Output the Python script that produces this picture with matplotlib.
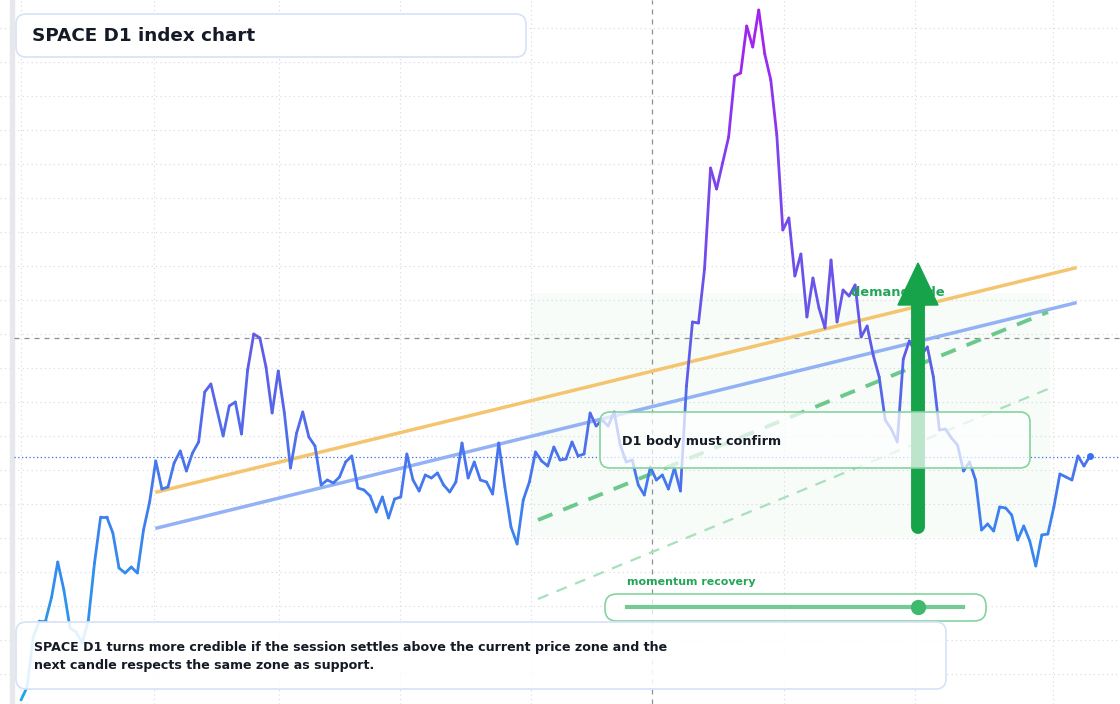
import numpy as np
import matplotlib
matplotlib.use("Agg")
import matplotlib.pyplot as plt
from matplotlib.collections import LineCollection
from matplotlib.colors import LinearSegmentedColormap
from matplotlib.patches import FancyBboxPatch, Rectangle

# price series (screen-height units, 704 = top)
screen_y_a = [700,687,637,621,621,597,562,590,628,632,643,620,563,517,517,533,568,573,567,573,530,502,461,489,487,463,451,471,453,442,392,384,410,436,406,402,434,370,334,338,367,413,371,413,468,433,412,437,446,485,480,483,477,462,456,488,490,496,512,497,518,499,497,454,480,491,475,478,473,485,492,482,443,478,462,480,482,494,443,487,527,544,500,482,452,461,466,447,460]
screen_y_b = [459,442,456,454,413,426,420,426,412,445,462,460,485,495,467,480,475,489,468,491,386,322,323,269,168,189,163,137,76,73,26,47,10,54,80,135,230,218,276,254,317,278,308,328,260,322,290,296,285,337,326,355,377,420,429,442,359,341,352,355,347,377,430,429,438,445,471,462,480,530,524,531,507,508,515,540,526,541,566,535,534,507,474,477,480,456,466,456]
price_a = [704 - v for v in screen_y_a]
price_b = [704 - v for v in screen_y_b]
title = "SPACE D1 index chart"
note = "SPACE D1 turns more credible if the session settles above the current price zone and the\nnext candle respects the same zone as support."
callout = "D1 body must confirm"

W, H = 1120, 704
fig = plt.figure(figsize=(11.2, 7.04), dpi=100)
ax = fig.add_axes([0, 0, 1, 1])
ax.set_xlim(0, W); ax.set_ylim(0, H); ax.axis("off")
Y = lambda y: H - y

for gx in [21, 154, 279, 400, 531, 784, 915, 1053]:
    ax.axvline(gx, color="#d5d9e0", lw=0.8, ls=(0, (1, 3)), zorder=0)
for gy in range(28, 704, 34):
    ax.axhline(Y(gy), color="#d5d9e0", lw=0.8, ls=(0, (1, 3)), zorder=0)
ax.add_patch(Rectangle((10, 0), 4, H, color="#e6e8ec", zorder=1))

ax.add_patch(Rectangle((531, Y(537)), 519, 244, color="#22c55e", alpha=0.035, lw=0, zorder=1))
ax.axvline(652, color="#8a8f99", lw=0.9, ls=(0, (4, 4)), zorder=2)
ax.axhline(Y(338), xmin=14/W, color="#8a8f99", lw=0.9, ls=(0, (4, 4)), zorder=2)
ax.axhline(Y(457), xmin=14/W, color="#3b6ef0", lw=0.9, ls=(0, (1, 2)), zorder=2)

ax.plot([157, 1075], [Y(492), Y(268)], color="#f5c46e", lw=2.5, zorder=3)
ax.plot([157, 1075], [Y(528), Y(303)], color="#93b1f5", lw=2.5, zorder=3)
ax.plot([538, 1048], [Y(520), Y(312)], color="#6cc98c", lw=2.8, ls=(0, (4, 3)), zorder=3)
ax.plot([538, 1048], [Y(599), Y(389)], color="#a8e0bb", lw=1.6, ls=(0, (5, 4)), zorder=3)

xs = np.concatenate([np.linspace(21, 560, len(price_a)), np.linspace(566, 1090, len(price_b))])
ps = np.array(price_a + price_b, dtype=float)
pts = np.array([xs, ps]).T.reshape(-1, 1, 2)
segs = np.concatenate([pts[:-1], pts[1:]], axis=1)
cmap = LinearSegmentedColormap.from_list("c", ["#1ea7e6", "#3b82f0", "#5f5ce8", "#7a45ec", "#a81ff0"])
lc = LineCollection(segs, cmap=cmap, norm=plt.Normalize(4, 694), lw=2, zorder=4, capstyle="round")
lc.set_array((ps[:-1] + ps[1:]) / 2)
ax.add_collection(lc)
ax.plot(xs[-1], ps[-1], "o", color="#3b6ef0", ms=4, zorder=5)

ax.text(851, Y(293), "demand side", color="#22a557", fontsize=9.4, fontweight="bold", va="center", zorder=5)
ax.plot([918, 918], [Y(527), Y(300)], color="#16a34a", lw=10, solid_capstyle="round", zorder=6)
ax.add_patch(plt.Polygon([[898, Y(305)], [938, Y(305)], [918, Y(263)]], color="#16a34a", zorder=6))

def box(x0, y0, x1, y1, ec, alpha=0.75, z=7, r=10):
    p = FancyBboxPatch((x0, Y(y1)), x1 - x0, y1 - y0, boxstyle=f"round,pad=0,rounding_size={r}", lw=1.2, zorder=z)
    p.set_facecolor((1, 1, 1, alpha))
    p.set_edgecolor(ec)
    ax.add_patch(p)

box(600, 412, 1030, 468, "#86d3a0", alpha=0.72)
ax.text(622, Y(441), callout, fontsize=9.2, fontweight="bold", color="#151b26", va="center", zorder=8)

ax.text(627, Y(582), "momentum recovery", fontsize=7.9, fontweight="bold", color="#22a557", va="center", zorder=8)
box(605, 594, 986, 621, "#86d3a0", r=12)
ax.plot([627, 963], [Y(607), Y(607)], color="#74c994", lw=3, zorder=8)
ax.plot(918, Y(607), "o", color="#3fb96c", ms=10, zorder=9)

box(16, 622, 946, 689, "#d6e2f7", alpha=0.88)
ax.text(34, Y(657), note, fontsize=9.1, fontweight="bold", color="#151b26", va="center", linespacing=1.5, zorder=8)

box(16, 14, 526, 57, "#d6e2f7", alpha=0.92)
ax.text(32, Y(36), title, fontsize=13.2, fontweight="bold", color="#151b26", va="center", zorder=8)

fig.savefig("out.png", dpi=100)
